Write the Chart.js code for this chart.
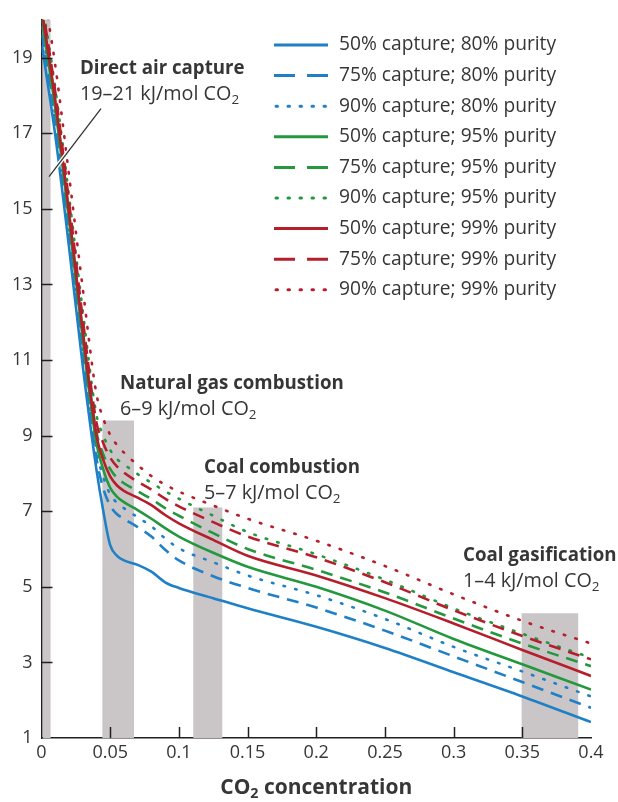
<!DOCTYPE html>
<html><head><meta charset="utf-8">
<script src="https://cdn.jsdelivr.net/npm/chart.js@4/dist/chart.umd.min.js"></script>
<style>html,body{margin:0;padding:0;background:#fff;}canvas{display:block;}</style>
</head><body>
<canvas id="c" width="618" height="802"></canvas>
<script>
// ---- data ----
const xValues = [0.0004, 0.01, 0.02, 0.03, 0.04, 0.045, 0.05, 0.055, 0.06, 0.07, 0.08, 0.09, 0.1, 0.125, 0.15, 0.2, 0.25, 0.3, 0.35, 0.4];
const cap50pur80 = [19.3, 16.95, 14.0, 10.85, 8.1, 7.0, 6.1, 5.82, 5.7, 5.58, 5.4, 5.12, 4.97, 4.7, 4.43, 3.94, 3.38, 2.74, 2.1, 1.42];
const cap75pur80 = [19.6, 17.25, 14.3, 11.15, 8.4, 7.6, 7.15, 6.92, 6.8, 6.58, 6.33, 5.98, 5.7, 5.28, 4.97, 4.45, 3.84, 3.16, 2.48, 1.8];
const cap90pur80 = [19.8, 17.45, 14.5, 11.35, 8.6, 7.9, 7.45, 7.22, 7.08, 6.84, 6.6, 6.28, 6.02, 5.65, 5.3, 4.78, 4.15, 3.41, 2.76, 2.1];
const cap50pur95 = [20.0, 17.65, 14.7, 11.55, 8.8, 8.1, 7.62, 7.38, 7.24, 7.03, 6.8, 6.55, 6.33, 5.9, 5.53, 5.0, 4.37, 3.62, 2.95, 2.28];
const cap75pur95 = [20.2, 17.85, 14.9, 11.8, 9.1, 8.5, 8.12, 7.88, 7.74, 7.53, 7.32, 7.08, 6.88, 6.42, 6.0, 5.45, 4.85, 4.16, 3.5, 2.9];
const cap90pur95 = [20.5, 18.2, 15.35, 12.3, 9.55, 9.0, 8.62, 8.38, 8.24, 7.98, 7.75, 7.53, 7.33, 6.88, 6.45, 5.86, 5.19, 4.43, 3.76, 3.12];
const cap50pur99 = [20.2, 17.85, 14.9, 11.75, 9.0, 8.35, 7.92, 7.68, 7.54, 7.36, 7.16, 6.9, 6.68, 6.24, 5.82, 5.3, 4.7, 4.03, 3.33, 2.64];
const cap75pur99 = [20.4, 18.1, 15.2, 12.1, 9.35, 8.8, 8.42, 8.18, 8.02, 7.78, 7.57, 7.33, 7.13, 6.71, 6.33, 5.78, 5.12, 4.38, 3.7, 3.08];
const cap90pur99 = [21.0, 18.8, 15.9, 12.9, 10.1, 9.45, 9.02, 8.75, 8.55, 8.22, 7.93, 7.7, 7.52, 7.15, 6.8, 6.22, 5.55, 4.8, 4.1, 3.5];
const seriesLabels = ['50% capture; 80% purity','75% capture; 80% purity','90% capture; 80% purity','50% capture; 95% purity','75% capture; 95% purity','90% capture; 95% purity','50% capture; 99% purity','75% capture; 99% purity','90% capture; 99% purity'];
const xTickValues = [0, 0.05, 0.1, 0.15, 0.2, 0.25, 0.3, 0.35, 0.4];
const xTickLabels = ['0','0.05','0.1','0.15','0.2','0.25','0.3','0.35','0.4'];
const yTickValues = [1, 3, 5, 7, 9, 11, 13, 15, 17, 19];
const regionNames = ['Direct air capture','Natural gas combustion','Coal combustion','Coal gasification'];
const regionRanges = ['19\u201321','6\u20139','5\u20137','1\u20134'];
const regionStart = [0.001, 0.0443, 0.1105, 0.3495];
const regionEnd = [0.0066, 0.0673, 0.1316, 0.3907];
const regionTop = [21, 9.4, 7.1, 4.3];
const xTitle = 'CO|2| concentration';

// ---- styling ----
const FONT = '"Open Sans", "Noto Sans", sans-serif';
const TXT = '#363636';
const BLUE = '#1f80c6', GREEN = '#23983f', RED = '#b51f2c';
const seriesData = [cap50pur80, cap75pur80, cap90pur80, cap50pur95, cap75pur95, cap90pur95, cap50pur99, cap75pur99, cap90pur99];
const seriesColor = [BLUE, BLUE, BLUE, GREEN, GREEN, GREEN, RED, RED, RED];
const seriesStyle = ['solid','dashed','dotted','solid','dashed','dotted','solid','dashed','dotted'];
const dashFor = {solid: [], dashed: [12, 8], dotted: [1.5, 10.5]};
const legendDash = {solid: [], dashed: [21, 12], dotted: [1.5, 10.5]};

const datasets = seriesData.map((arr, i) => ({
  label: seriesLabels[i],
  data: xValues.map((x, j) => ({x: x, y: arr[j]})),
  borderColor: seriesColor[i],
  backgroundColor: seriesColor[i],
  borderWidth: 2.6,
  borderDash: dashFor[seriesStyle[i]],
  borderCapStyle: seriesStyle[i] === 'dotted' ? 'round' : 'butt',
  pointRadius: 0,
  fill: false,
  cubicInterpolationMode: 'monotone',
  order: 8 - i
}));

function drawCO2Text(ctx, parts, x, y, size, weight) {
  const segs = parts.split('|');
  let cx = x;
  segs.forEach((s, k) => {
    if (k % 2 === 1) {
      ctx.font = weight + ' ' + (size * 0.68) + 'px ' + FONT;
      ctx.fillText(s, cx, y + size * 0.3);
    } else {
      ctx.font = weight + ' ' + size + 'px ' + FONT;
      ctx.fillText(s, cx, y);
    }
    cx += ctx.measureText(s).width;
  });
  return cx - x;
}
function textWidth(ctx, parts, size, weight) {
  let w = 0;
  parts.split('|').forEach((s, k) => {
    ctx.font = weight + ' ' + (k % 2 ? size * 0.68 : size) + 'px ' + FONT;
    w += ctx.measureText(s).width;
  });
  return w;
}

const decorPlugin = {
  id: 'decor',
  beforeDatasetsDraw(chart) {
    const {ctx, chartArea: a, scales: {x, y}} = chart;
    ctx.save();
    ctx.beginPath(); ctx.rect(a.left, a.top, a.right - a.left, a.bottom - a.top); ctx.clip();
    ctx.fillStyle = '#cac6c7';
    regionStart.forEach((s, i) => {
      const x0 = x.getPixelForValue(s), x1 = x.getPixelForValue(regionEnd[i]);
      const yt = y.getPixelForValue(regionTop[i]), yb = y.getPixelForValue(1);
      ctx.fillRect(x0, yt, x1 - x0, yb - yt);
    });
    ctx.restore();
  },
  afterDatasetsDraw(chart) {
    const {ctx, chartArea: a, scales: {x, y}} = chart;
    ctx.save();
    // pointer for direct air capture
    const px1 = x.getPixelForValue(0.0433), py1 = y.getPixelForValue(17.65);
    const px2 = x.getPixelForValue(0.0055), py2 = y.getPixelForValue(15.85);
    ctx.lineCap = 'butt';
    ctx.strokeStyle = '#fff'; ctx.lineWidth = 4;
    ctx.beginPath(); ctx.moveTo(px1 - 6, py1 + 8); ctx.lineTo(px2 + 3, py2 - 4); ctx.stroke();
    ctx.strokeStyle = '#333'; ctx.lineWidth = 1.3;
    ctx.beginPath(); ctx.moveTo(px1, py1); ctx.lineTo(px2, py2); ctx.stroke();

    // annotations
    const pos = [[80, 69], [120, 384], [204, 468], [463, 556]];
    ctx.fillStyle = TXT;
    ctx.textBaseline = 'middle';
    ctx.textAlign = 'left';
    regionNames.forEach((n, i) => {
      ctx.font = 'bold 18.7px ' + FONT;
      ctx.fillText(n, pos[i][0], pos[i][1]);
      drawCO2Text(ctx, regionRanges[i] + ' kJ/mol CO|2|', pos[i][0], pos[i][1] + 25.5, 19.8, 'normal');
    });

    // inward ticks
    ctx.strokeStyle = '#231f20'; ctx.lineWidth = 1.5;
    yTickValues.forEach(v => {
      if (v === 1) return;
      const py = Math.round(y.getPixelForValue(v)) + 0.5;
      ctx.beginPath(); ctx.moveTo(a.left, py); ctx.lineTo(a.left + 11, py); ctx.stroke();
    });
    xTickValues.forEach(v => {
      if (v === 0 || v === 0.4) return;
      const px = Math.round(x.getPixelForValue(v)) + 0.5;
      ctx.beginPath(); ctx.moveTo(px, a.bottom); ctx.lineTo(px, a.bottom - 11); ctx.stroke();
    });

    // axis title
    ctx.textBaseline = 'middle';
    const tw = textWidth(ctx, xTitle, 21, 'bold');
    const cx = (a.left + a.right) / 2;
    drawCO2Text(ctx, xTitle, cx - tw / 2, 788, 21, 'bold');

    // legend
    const lx0 = 274, lx1 = 328, tx = 339, ly0 = 45, dy = 30.6;
    chart.data.datasets.forEach((d, i) => {
      const ly = ly0 + i * dy;
      const st = seriesStyle[i];
      ctx.strokeStyle = d.borderColor;
      ctx.lineWidth = 3;
      ctx.lineCap = st === 'dotted' ? 'round' : 'butt';
      ctx.setLineDash(legendDash[st]);
      ctx.beginPath(); ctx.moveTo(lx0 + (st === 'dotted' ? 2 : 0), ly); ctx.lineTo(lx1, ly); ctx.stroke();
      ctx.setLineDash([]);
      ctx.fillStyle = TXT;
      ctx.font = '19.2px ' + FONT;
      ctx.textBaseline = 'middle';
      ctx.fillText(d.label, tx, ly);
    });
    ctx.restore();
  }
};

new Chart(document.getElementById('c'), {
  type: 'line',
  data: {datasets: datasets},
  options: {
    responsive: false,
    animation: false,
    devicePixelRatio: 1,
    layout: {padding: {top: 19, right: 27, left: 0, bottom: 0}},
    plugins: {legend: {display: false}, tooltip: {enabled: false}},
    scales: {
      x: {
        type: 'linear', min: 0, max: 0.4,
        afterFit: s => { s.height = 64; },
        afterBuildTicks: s => { s.ticks = xTickValues.map(v => ({value: v})); },
        grid: {display: false, drawTicks: false},
        border: {display: true, color: '#231f20', width: 1.5},
        ticks: {autoSkip: false, maxRotation: 0, padding: 4, color: TXT, font: {family: FONT, size: 18},
          callback: (v, i) => xTickLabels[i]}
      },
      y: {
        type: 'linear', min: 1, max: 20,
        afterFit: s => { s.width = 41.5; },
        afterBuildTicks: s => { s.ticks = yTickValues.map(v => ({value: v})); },
        grid: {display: false, drawTicks: false},
        border: {display: true, color: '#231f20', width: 1.5},
        ticks: {padding: 9, color: TXT, font: {family: FONT, size: 18},
          callback: v => String(v)}
      }
    }
  },
  plugins: [decorPlugin]
});
</script>
</body></html>
